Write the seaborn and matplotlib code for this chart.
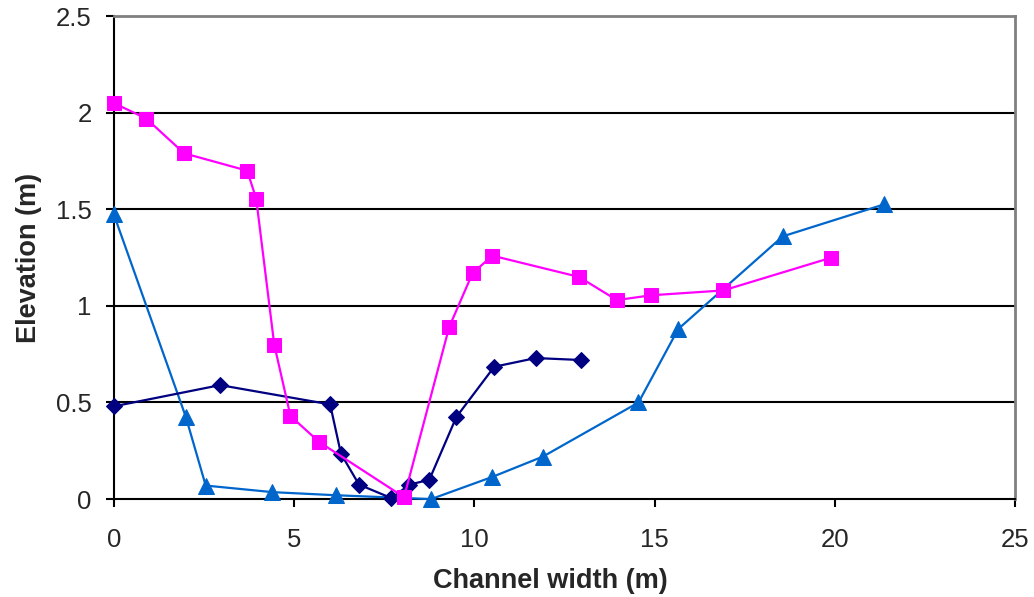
import numpy as np
import pandas as pd
import matplotlib
matplotlib.use('Agg')
import matplotlib.pyplot as plt
import seaborn as sns

# 断面数据 (宽度, 高程)
pink_x = [0, 0.9, 1.95, 3.7, 3.95, 4.45, 4.9, 5.7, 8.05, 9.3, 9.95, 10.5, 12.9, 13.95, 14.9, 16.9, 19.9]
pink_y = [2.05, 1.97, 1.79, 1.70, 1.555, 0.80, 0.43, 0.295, 0.01, 0.89, 1.17, 1.26, 1.15, 1.03, 1.055, 1.08, 1.25]

navy_x = [0, 2.95, 6.0, 6.3, 6.8, 7.7, 8.2, 8.75, 9.5, 10.55, 11.7, 12.95]
navy_y = [0.48, 0.59, 0.49, 0.235, 0.075, 0.005, 0.075, 0.10, 0.425, 0.685, 0.73, 0.72]

blue_x = [0, 2.0, 2.55, 4.4, 6.15, 8.8, 10.5, 11.9, 14.55, 15.65, 18.55, 21.35]
blue_y = [1.475, 0.425, 0.07, 0.036, 0.02, 0.0, 0.115, 0.22, 0.50, 0.88, 1.36, 1.525]

sns.set_style('white')
plt.rcParams['font.family'] = ['Liberation Sans', 'DejaVu Sans']

fig = plt.figure(figsize=(10.34, 5.97), dpi=100)
ax = fig.add_axes([0.110, 0.164, 0.872, 0.809])

# 网格线
for yv in [0.5, 1.0, 1.5, 2.0]:
    ax.axhline(yv, color='black', lw=1.5, zorder=1)

sns.lineplot(x=blue_x, y=blue_y, sort=False, color='#0066CC', marker='^', markersize=11,
             markeredgecolor='#0066CC', lw=1.6, ax=ax, zorder=3, clip_on=False)
sns.lineplot(x=navy_x, y=navy_y, sort=False, color='#000080', marker='D', markersize=8.5,
             markeredgecolor='#000080', lw=1.6, ax=ax, zorder=4, clip_on=False)
sns.lineplot(x=pink_x, y=pink_y, sort=False, color='#FF00FF', marker='s', markersize=10,
             markeredgecolor='#FF00FF', lw=1.6, ax=ax, zorder=5, clip_on=False)

ax.set_xlim(0, 25)
ax.set_ylim(0, 2.5)
ax.set_xticks([0, 5, 10, 15, 20, 25])
ax.set_yticks([0, 0.5, 1, 1.5, 2, 2.5])
ax.set_yticklabels(['0', '0.5', '1', '1.5', '2', '2.5'])
ax.tick_params(axis='both', direction='out', length=6, width=1.5, color='black',
               labelsize=18.5, left=True, bottom=True)
ax.tick_params(axis='y', pad=10)
ax.tick_params(axis='x', pad=15)

for s in ['left', 'bottom']:
    ax.spines[s].set_color('black')
    ax.spines[s].set_linewidth(1.5)
for s in ['top', 'right']:
    ax.spines[s].set_color('#808080')
    ax.spines[s].set_linewidth(2)

ax.set_xlabel('Channel width (m)', fontsize=19.5, fontweight='bold', labelpad=10)
ax.set_ylabel('Elevation (m)', fontsize=19.5, fontweight='bold', labelpad=10)
ax.xaxis.set_label_coords(0.484, -0.143)

plt.savefig('out.png', dpi=100)
